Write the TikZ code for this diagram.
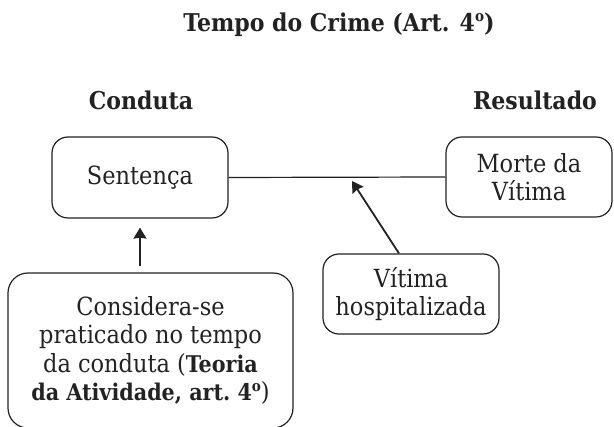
\documentclass[tikz,border=0pt]{standalone}
\usepackage{fontspec}
\setmainfont{DejaVu Serif Condensed}
\usetikzlibrary{arrows.meta,positioning}
\definecolor{ink}{HTML}{222222}
\newcommand{\bodyfont}{\fontsize{25}{28.5}\selectfont}
\newcommand{\headfont}{\fontsize{24.5}{28.5}\selectfont\bfseries}
\newcommand{\ordo}{\raisebox{0.42em}{\fontsize{15}{15}\selectfont o}}
\newcommand{\boldpart}[1]{{\fontsize{23}{28.5}\selectfont\bfseries #1}}
\begin{document}
\begin{tikzpicture}
[x=1pt,y=1pt,
box/.style={rectangle,rounded corners=16pt,draw=ink,line width=1.2pt,text=ink,align=center,inner sep=0pt,font=\bodyfont},
heading/.style={anchor=base,text=ink,font=\headfont},
link/.style={draw=ink,line width=1.2pt},
arr/.style={draw=ink,line width=1.8pt,-{Stealth[length=11pt,width=13pt,inset=1pt]}}]
\useasboundingbox (0,0) rectangle (614,-427);
% headings
\node[heading] (title) at (339,-32) {Tempo do Crime (Art. 4\ordo)};
\node[heading] (conduta) at (141,-110) {Conduta};
\node[heading] (resultado) at (535,-110) {Resultado};
% boxes
\node[box,minimum width=176pt,minimum height=81pt] (sentenca) at (140,-177.5) {Sentença};
\node[box,minimum width=166pt,minimum height=80pt] (morte) at (529,-177) {Morte da\\Vítima};
\node[box,minimum width=176pt,minimum height=80pt] (vitima) at (411,-294) {Vítima\\hospitalizada};
\node[box,rounded corners=20pt,minimum width=285pt,minimum height=155pt] (considera) at (150.5,-350.5)
  {Considera-se\\praticado no tempo\\da conduta (\boldpart{Teoria}\\\boldpart{da Atividade, art.~4\ordo})};
% connectors
\coordinate (hit) at (352,-181);
\draw[link] (sentenca.east) -- (morte.west);
\draw[arr,shorten <=6pt,shorten >=9pt] (considera.north -| sentenca.south) -- (sentenca.south);
\draw[arr] ([xshift=-12pt]vitima.north) -- (hit);
\end{tikzpicture}
\end{document}
